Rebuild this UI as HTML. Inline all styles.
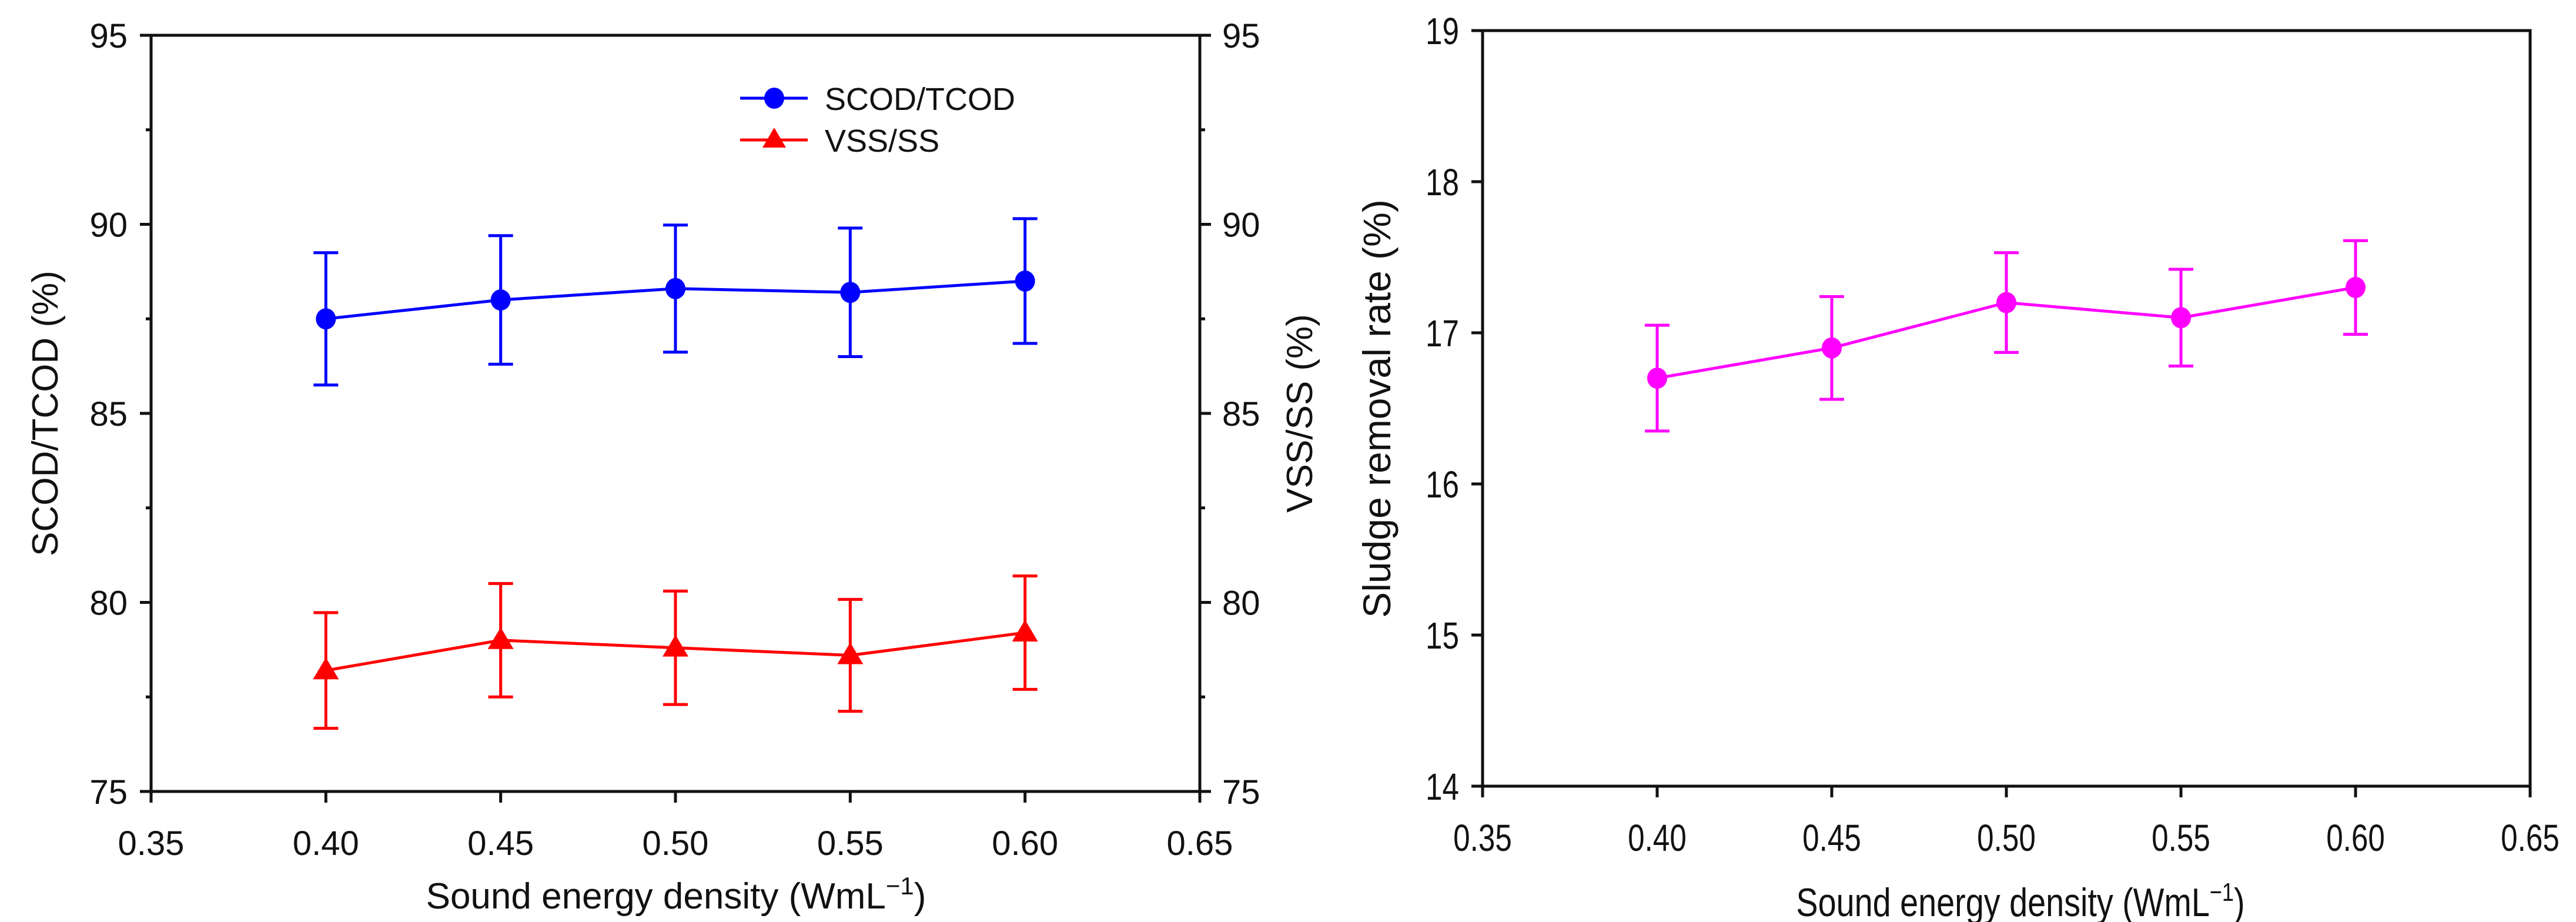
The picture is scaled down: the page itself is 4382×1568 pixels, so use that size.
<!DOCTYPE html>
<html><head><meta charset="utf-8"><style>
html,body{margin:0;padding:0;background:#fff;}
svg{display:block;font-family:"Liberation Sans",Arial,sans-serif;}
</style></head><body>
<svg id="fig" width="4382" height="1568" viewBox="0 0 4382 1568"></svg>
<script>
const xVals = [0.40, 0.45, 0.50, 0.55, 0.60];
const scodMean = [87.5, 88.0, 88.3, 88.2, 88.5];
const scodErr = [1.75, 1.7, 1.68, 1.7, 1.65];
const vssMean = [78.2, 79.0, 78.8, 78.6, 79.2];
const vssErr = [1.53, 1.5, 1.5, 1.48, 1.5];
const sludgeMean = [16.7, 16.9, 17.2, 17.1, 17.3];
const sludgeErr = [0.35, 0.34, 0.33, 0.32, 0.31];
const xTicks = ["0.35","0.40","0.45","0.50","0.55","0.60","0.65"];
const yTicksL = ["75","80","85","90","95"];
const yTicksR = ["14","15","16","17","18","19"];

const NS = "http://www.w3.org/2000/svg";
const svg = document.getElementById('fig');
function el(tag, attrs, parent, text){
  const e = document.createElementNS(NS, tag);
  for (const k in attrs) e.setAttribute(k, attrs[k]);
  if (text !== undefined) e.textContent = text;
  (parent||svg).appendChild(e);
  return e;
}
const L = {x0:257, x1:2041, y0:60, y1:1346, xmin:0.35, xmax:0.65, ymin:75, ymax:95};
const R = {x0:2522, x1:4304, y0:52, y1:1337, xmin:0.35, xmax:0.65, ymin:14, ymax:19};
function sx(p,v){return p.x0 + (v-p.xmin)/(p.xmax-p.xmin)*(p.x1-p.x0);}
function sy(p,v){return p.y1 - (v-p.ymin)/(p.ymax-p.ymin)*(p.y1-p.y0);}

function frame(p, name, narrow){
  const g = el('g',{});
  
  
  el('rect',{x:p.x0,y:p.y0,width:p.x1-p.x0,height:p.y1-p.y0,fill:'none',stroke:'#111','stroke-width':5},g);
  xTicks.forEach(t=>{
    const x = sx(p, parseFloat(t));
    el('line',{x1:x,y1:p.y1,x2:x,y2:p.y1+19,stroke:'#111','stroke-width':5},g);
    const tx = el('text',{x:x,y:p.y1+(narrow?110:108),'font-size':narrow?64:58,'text-anchor':'middle',fill:'#111'},g,t);
    
    
    if(narrow){tx.setAttribute('transform','translate('+x+' 0) scale(0.8 1) translate('+(-x)+' 0)');}
  });
  return g;
}
const gL = frame(L,'left-chart',false);
for(let v=75; v<=95; v+=2.5){
  const y = sy(L,v), major = (v%5===0);
  el('line',{x1:L.x0-(major?19:9),y1:y,x2:L.x0,y2:y,stroke:'#111','stroke-width':5},gL);
  el('line',{x1:L.x1,y1:y,x2:L.x1+(major?19:9),y2:y,stroke:'#111','stroke-width':5},gL);
}
yTicksL.forEach(t=>{
  const y = sy(L, parseFloat(t));
  const a = el('text',{x:L.x0-40,y:y+21,'font-size':58,'text-anchor':'end',fill:'#111'},gL,t);
  
  
  const b = el('text',{x:L.x1+38,y:y+21,'font-size':58,'text-anchor':'start',fill:'#111'},gL,t);
  
  
});
let t;
t = el('text',{x:1150,y:1545,'font-size':62,'text-anchor':'middle',fill:'#111'},svg);
t.innerHTML = 'Sound energy density (WmL<tspan dy="-24" font-size="42">−1</tspan><tspan dy="24">)</tspan>';


t = el('text',{x:0,y:0,'font-size':62,'text-anchor':'middle',fill:'#111',transform:'translate(98 703) rotate(-90)'},svg,'SCOD/TCOD (%)');


t = el('text',{x:0,y:0,'font-size':62,'text-anchor':'middle',fill:'#111',transform:'translate(2232 703) rotate(-90)'},svg,'VSS/SS (%)');



function series(p, means, errs, color, marker, name){
  const g = el('g',{});
  
  
  const pts = xVals.map((x,i)=>[sx(p,x), sy(p,means[i])]);
  el('polyline',{points:pts.map(q=>q.join(',')).join(' '),fill:'none',stroke:color,'stroke-width':5},g);
  xVals.forEach((x,i)=>{
    const X = sx(p,x), yt = sy(p,means[i]+errs[i]), yb = sy(p,means[i]-errs[i]);
    const eb = el('path',{d:`M${X},${yt}V${yb}M${X-21},${yt}H${X+21}M${X-21},${yb}H${X+21}`,stroke:color,'stroke-width':5,fill:'none'},g);
    
    
    const Y = sy(p,means[i]);
    let m;
    if(marker==='circle'){ m = el('ellipse',{cx:X,cy:Y,rx:17,ry:18,fill:color},g); }
    else { m = el('polygon',{points:`${X},${Y-22} ${X-22},${Y+15} ${X+22},${Y+15}`,fill:color},g); }
    
    
  });
}
series(L, scodMean, scodErr, '#0000ff', 'circle', 'scod-tcod');
series(L, vssMean, vssErr, '#ff0000', 'triangle', 'vss-ss');

const lg = el('g',{});


el('line',{x1:1259,y1:167,x2:1374,y2:167,stroke:'#0000ff','stroke-width':5},lg);
el('ellipse',{cx:1317,cy:167,rx:17,ry:18,fill:'#0000ff'},lg);
t = el('text',{x:1403,y:187,'font-size':54,fill:'#111'},lg,'SCOD/TCOD');


el('line',{x1:1259,y1:238,x2:1374,y2:238,stroke:'#ff0000','stroke-width':5},lg);
el('polygon',{points:'1317,217 1297,251 1337,251',fill:'#ff0000'},lg);
t = el('text',{x:1403,y:258,'font-size':54,fill:'#111'},lg,'VSS/SS');



const gR = frame(R,'right-chart',true);
yTicksR.forEach(tk=>{
  const y = sy(R, parseFloat(tk));
  el('line',{x1:R.x0-19,y1:y,x2:R.x0,y2:y,stroke:'#111','stroke-width':5},gR);
  const a = el('text',{x:R.x0-40,y:y+23,'font-size':64,'text-anchor':'end',fill:'#111',transform:`translate(${R.x0-40} 0) scale(0.8 1) translate(${-(R.x0-40)} 0)`},gR,tk);
  
  
});
t = el('text',{x:3437,y:1558,'font-size':68,'text-anchor':'middle',fill:'#111',transform:'translate(3437 0) scale(0.82 1) translate(-3437 0)'},svg);
t.innerHTML = 'Sound energy density (WmL<tspan dy="-26" font-size="44">−1</tspan><tspan dy="26">)</tspan>';


t = el('text',{x:0,y:0,'font-size':66,'text-anchor':'middle',fill:'#111',transform:'translate(2365 695) rotate(-90)'},svg,'Sludge removal rate (%)');


series(R, sludgeMean, sludgeErr, '#ff00ff', 'circle', 'sludge-removal');
</script>
</body></html>
